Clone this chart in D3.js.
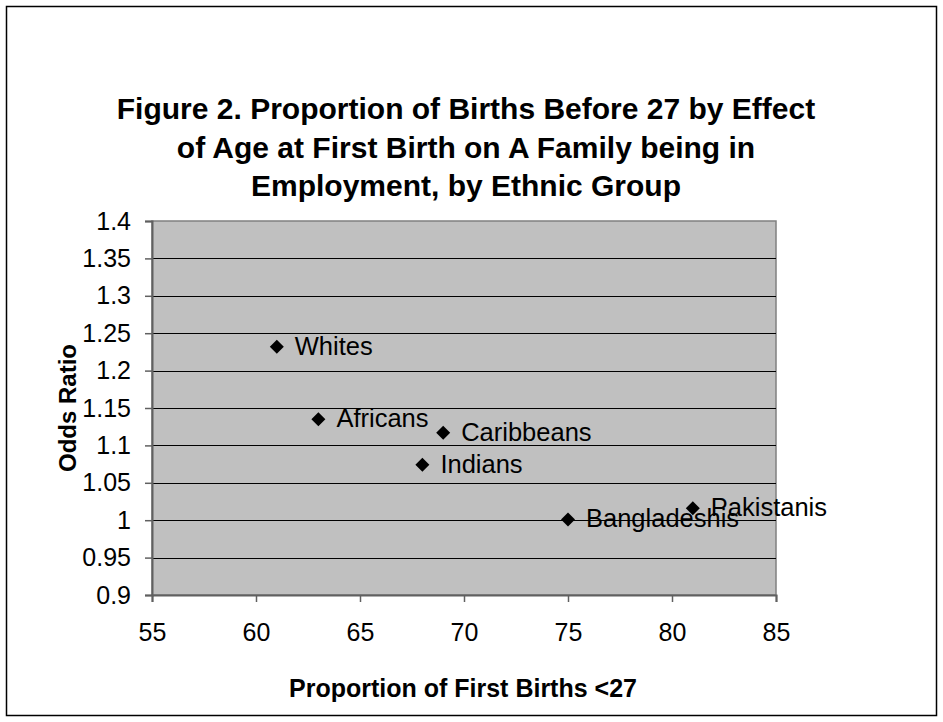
<!DOCTYPE html>
<html>
<head>
<meta charset="utf-8">
<script src="https://cdn.jsdelivr.net/npm/d3@7"></script>
<style>
  body { margin: 0; background: #fff; }
  text { font-family: "Liberation Sans", Arial, sans-serif; }
</style>
</head>
<body>
<script>
// chart data
var groups = ['Whites', 'Africans', 'Caribbeans', 'Indians', 'Bangladeshis', 'Pakistanis'];
var firstBirths = [61, 63, 69, 68, 75, 81];
var oddsRatio = [1.232, 1.135, 1.117, 1.074, 1.001, 1.016];
var xTicks = [55, 60, 65, 70, 75, 80, 85];
var yTicks = [0.9, 0.95, 1, 1.05, 1.1, 1.15, 1.2, 1.25, 1.3, 1.35, 1.4];
var titleLines = ['Figure 2. Proportion of Births Before 27 by Effect',
  'of Age at First Birth on A Family being in',
  'Employment, by Ethnic Group'];

var W = 943, H = 722;
var plotL = 152, plotR = 776, plotT = 221, plotB = 595;

var svg = d3.select('body').append('svg').attr('width', W).attr('height', H);

// outer frame
svg.append('rect').attr('x', 6.5).attr('y', 6.5).attr('width', W - 13).attr('height', H - 13)
  .attr('fill', '#fff').attr('stroke', '#000').attr('stroke-width', 1.5);

var x = d3.scaleLinear().domain([55, 85]).range([plotL, plotR]);
var y = d3.scaleLinear().domain([0.9, 1.4]).range([plotB, plotT]);

// plot area
svg.append('rect').attr('x', plotL).attr('y', plotT).attr('width', plotR - plotL).attr('height', plotB - plotT)
  .attr('fill', '#c0c0c0').attr('stroke', '#808080').attr('stroke-width', 1.5);

// gridlines
svg.append('g').selectAll('line').data(yTicks.slice(1, -1)).enter().append('line')
  .attr('x1', plotL).attr('x2', plotR)
  .attr('y1', function(d) { return Math.round(y(d)) + 0.5; })
  .attr('y2', function(d) { return Math.round(y(d)) + 0.5; })
  .attr('stroke', '#000').attr('stroke-width', 1);

var xAxis = svg.append('g').attr('transform', 'translate(0,' + plotB + ')')
  .call(d3.axisBottom(x).tickValues(xTicks).tickSize(7).tickPadding(21).tickFormat(d3.format('d')));
var yAxis = svg.append('g').attr('transform', 'translate(' + plotL + ',0)')
  .call(d3.axisLeft(y).tickValues(yTicks).tickSize(7).tickPadding(14).tickFormat(function(d) { return String(d); }));

[xAxis, yAxis].forEach(function(a) {
  a.select('.domain').attr('stroke', '#606060').attr('stroke-width', 2);
  a.selectAll('.tick line').attr('stroke', '#606060').attr('stroke-width', 1.5);
  a.selectAll('.tick text').attr('font-size', 25).attr('fill', '#000')
    .style('font-family', '"Liberation Sans", Arial, sans-serif');
});

// points
var pts = groups.map(function(g, i) { return { name: g, x: firstBirths[i], y: oddsRatio[i] }; });
var sym = d3.symbol().type(d3.symbolSquare).size(98);

svg.append('g').selectAll('path').data(pts).enter().append('path')
  .attr('d', sym)
  .attr('transform', function(d) { return 'translate(' + x(d.x) + ',' + y(d.y) + ') rotate(45)'; })
  .attr('fill', '#000');

svg.append('g').selectAll('text').data(pts).enter().append('text')
  .attr('x', function(d) { return x(d.x) + 18; })
  .attr('y', function(d) { return y(d.y) + 8; })
  .attr('font-size', 25.5)
  .text(function(d) { return d.name; });

// title
svg.append('g').selectAll('text').data(titleLines).enter().append('text')
  .attr('x', 466).attr('y', function(d, i) { return 119 + i * 38.5; })
  .attr('text-anchor', 'middle').attr('font-size', 30).attr('font-weight', 'bold')
  .text(function(d) { return d; });

// axis titles
svg.append('text').attr('x', 463).attr('y', 697).attr('text-anchor', 'middle')
  .attr('font-size', 25).attr('font-weight', 'bold').text('Proportion of First Births <27');
svg.append('text').attr('transform', 'translate(76,408) rotate(-90)').attr('text-anchor', 'middle')
  .attr('font-size', 24).attr('font-weight', 'bold').text('Odds Ratio');
</script>
</body>
</html>
